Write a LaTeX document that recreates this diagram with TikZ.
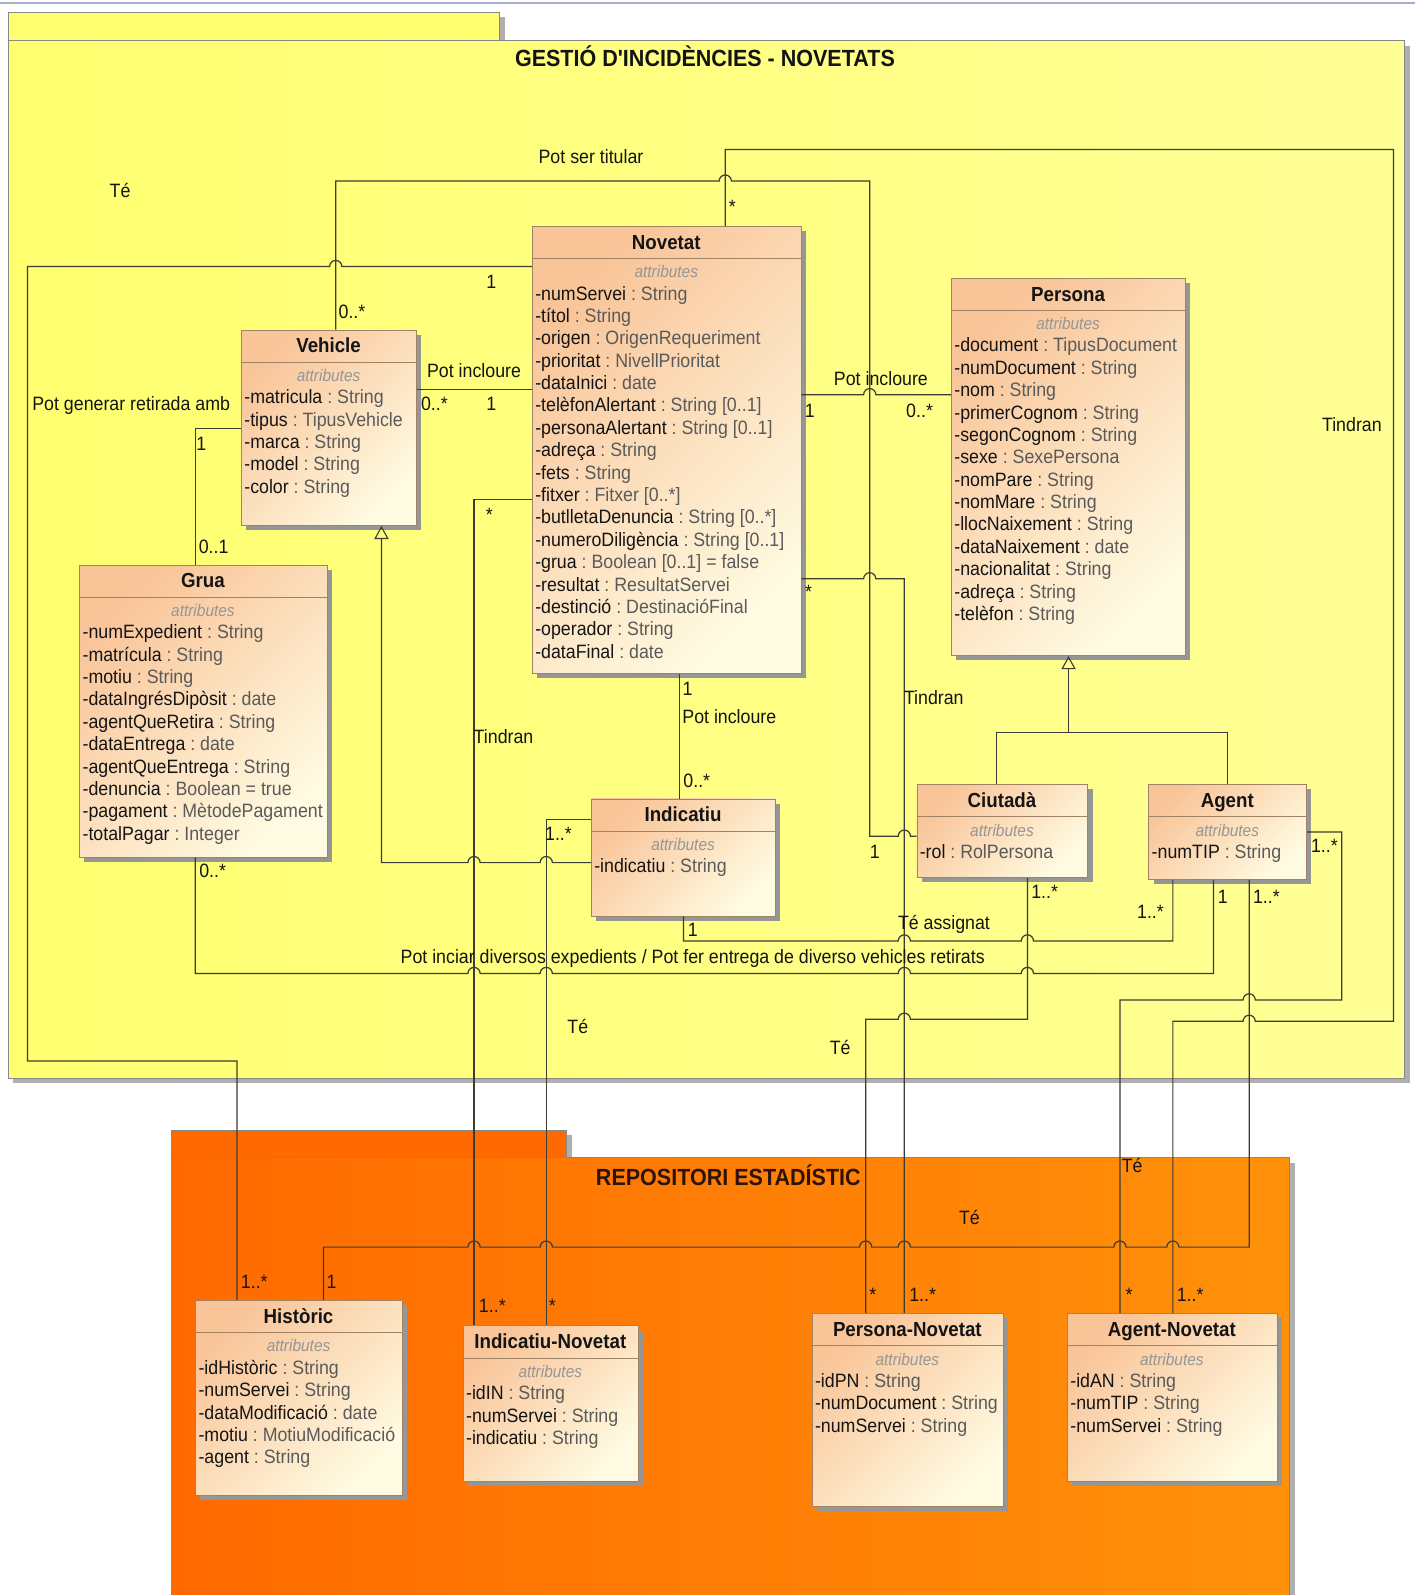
\documentclass[tikz,border=0pt]{standalone}
\usepackage{fontspec}
\setmainfont{Liberation Sans}
\newfontfamily\nar[FakeStretch=0.92]{Liberation Sans}
\usetikzlibrary{calc,arrows.meta}
\definecolor{pkgY}{RGB}{255,255,112}
\definecolor{pkgY2}{RGB}{255,255,150}
\definecolor{pkgO}{RGB}{255,106,0}
\definecolor{pkgO2}{RGB}{255,145,10}
\definecolor{pkgBorder}{RGB}{135,135,135}
\definecolor{pkgShadow}{RGB}{175,175,175}
\definecolor{clsA}{RGB}{249,196,152}
\definecolor{clsB}{RGB}{255,251,226}
\definecolor{clsBorder}{RGB}{160,130,100}
\definecolor{clsShadow}{RGB}{150,150,150}
\definecolor{lineC}{RGB}{60,60,50}
\definecolor{typeC}{RGB}{90,90,90}
\definecolor{attrC}{RGB}{150,150,150}
\definecolor{txtC}{RGB}{20,20,20}
\definecolor{pkgTxt}{RGB}{45,20,10}
\definecolor{topLine}{RGB}{165,175,205}

\newcommand\fattr{\nar\fontsize{19}{22}\selectfont}
\newcommand\ftitle{\nar\bfseries\fontsize{20}{24}\selectfont}
\newcommand\fsmall{\nar\itshape\fontsize{16.5}{20}\selectfont}
\newcommand\fpkg{\nar\bfseries\fontsize{23}{28}\selectfont}
\newcommand\at[2]{-#1\ \textcolor{typeC}{:\ #2}}

\tikzset{
  assoc/.style={draw=lineC, line width=1.2pt},
  clsbox/.style={draw=clsBorder, line width=0.9pt, top color=clsA, bottom color=clsB, shading angle=45, inner sep=0pt, anchor=north west},
  clstitle/.style={font=\ftitle, text=txtC, anchor=base, inner sep=0pt},
  clsattr/.style={font=\fsmall, text=attrC, anchor=base, inner sep=0pt},
  attrline/.style={font=\fattr, text=txtC, anchor=base west, inner sep=0pt},
  lbl/.style={font=\fattr, text=txtC, anchor=base, inner sep=0pt},
  starl/.style={font=\fattr, text=txtC, anchor=center, inner sep=0pt},
  gen/.style={assoc, -{Triangle[open, length=13pt, width=14pt, line width=1.1pt]}},
}

\newcommand\umlcls[7]{%
  \fill[clsShadow] (#2+5,#3+5) rectangle (#2+#4+5,#3+#5+5);
  \node[clsbox, minimum width=#4pt, minimum height=#5pt] (#1) at (#2,#3) {};
  \draw[draw=clsBorder, line width=0.9pt] (#2,#3+32) -- (#2+#4,#3+32);
  \node[clstitle] (#1t) at (#2+#4/2,#3+23) {#6};
  \node[clsattr] (#1s) at (#2+#4/2,#3+51) {attributes};
  \foreach \attxt [count=\i from 0] in {#7} \node[attrline] (#1a\i) at (#2+3,#3+73+22*\i) {\attxt};
}
\newcommand\lab[4]{\node[lbl] (#1) at (#2,#3) {#4};}
\newcommand\stl[3]{\node[starl] (#1) at (#2,#3) {*};}

\begin{document}
\begin{tikzpicture}[x=1pt,y=-1pt]
\useasboundingbox (0,0) rectangle (1391,1568);
\fill[white] (0,0) rectangle (1391,1568);
\draw[topLine, line width=1.5pt] (0,3) -- (1391,3);

% ---------- yellow package
\fill[pkgShadow] (13,17) rectangle (496,40);
\fill[pkgShadow] (13,45) rectangle (1386,1065);
\path[draw=pkgBorder, line width=1pt, fill=pkgY] (8,12) rectangle (491,40);
\path[draw=pkgBorder, line width=1pt, left color=pkgY, right color=pkgY2] (8,40) rectangle (1381,1060);
\node[font=\fpkg, text=txtC, anchor=base, inner sep=0pt] (ptitleA) at (693,65) {GESTIÓ D{\char"27}INCIDÈNCIES - NOVETATS};

% ---------- orange package
\fill[pkgShadow] (174,1116) rectangle (562,1143);
\fill[pkgShadow] (174,1143) rectangle (1273,1575);
\path[draw=pkgBorder, line width=1pt, fill=pkgO] (169,1111) rectangle (557,1138);
\path[draw=pkgBorder, line width=1pt, left color=pkgO, right color=pkgO2] (169,1138) rectangle (1268,1580);
\node[font=\fpkg, text=pkgTxt, anchor=base, inner sep=0pt] (ptitleB) at (716,1165) {REPOSITORI ESTADÍSTIC};

% ---------- classes
\umlcls{nov}{523}{222}{264}{440}{Novetat}{\at{numServei}{String},\at{títol}{String},\at{origen}{OrigenRequeriment},\at{prioritat}{NivellPrioritat},\at{dataInici}{date},\at{telèfonAlertant}{String [0..1]},\at{personaAlertant}{String [0..1]},\at{adreça}{String},\at{fets}{String},\at{fitxer}{Fitxer [0..*]},\at{butlletaDenuncia}{String [0..*]},\at{numeroDiligència}{String [0..1]},\at{grua}{Boolean [0..1] = false},\at{resultat}{ResultatServei},\at{destinció}{DestinacióFinal},\at{operador}{String},\at{dataFinal}{date}}
\umlcls{veh}{237}{324}{172}{192}{Vehicle}{\at{matricula}{String},\at{tipus}{TipusVehicle},\at{marca}{String},\at{model}{String},\at{color}{String}}
\umlcls{per}{935}{273}{230}{371}{Persona}{\at{document}{TipusDocument},\at{numDocument}{String},\at{nom}{String},\at{primerCognom}{String},\at{segonCognom}{String},\at{sexe}{SexePersona},\at{nomPare}{String},\at{nomMare}{String},\at{llocNaixement}{String},\at{dataNaixement}{date},\at{nacionalitat}{String},\at{adreça}{String},\at{telèfon}{String}}
\umlcls{grua}{78}{555}{243}{287}{Grua}{\at{numExpedient}{String},\at{matrícula}{String},\at{motiu}{String},\at{dataIngrésDipòsit}{date},\at{agentQueRetira}{String},\at{dataEntrega}{date},\at{agentQueEntrega}{String},\at{denuncia}{Boolean = true},\at{pagament}{MètodePagament},\at{totalPagar}{Integer}}
\umlcls{ind}{581}{785}{181}{115}{Indicatiu}{\at{indicatiu}{String}}
\umlcls{cit}{901}{771}{168}{91}{Ciutadà}{\at{rol}{RolPersona}}
\umlcls{ag}{1129}{771}{155}{93}{Agent}{\at{numTIP}{String}}
\umlcls{his}{192}{1278}{203}{192}{Històric}{\at{idHistòric}{String},\at{numServei}{String},\at{dataModificació}{date},\at{motiu}{MotiuModificació},\at{agent}{String}}
\umlcls{inn}{455}{1303}{172}{153}{Indicatiu-Novetat}{\at{idIN}{String},\at{numServei}{String},\at{indicatiu}{String}}
\umlcls{pn}{798}{1291}{188}{189}{Persona-Novetat}{\at{idPN}{String},\at{numDocument}{String},\at{numServei}{String}}
\umlcls{an}{1049}{1291}{206}{165}{Agent-Novetat}{\at{idAN}{String},\at{numTIP}{String},\at{numServei}{String}}

% ---------- connectors
% Pot ser titular: Vehicle - Ciutada
\draw[assoc] (veh.north-|330,0) -- (330,178) -- (707,178) arc[start angle=180,end angle=0,radius=6pt] -- (855,178) -- (855,822) -- (883,822) arc[start angle=180,end angle=0,radius=6pt] -- (cit.west|-0,822);
% Te: Novetat - Historic
\draw[assoc] (nov.west|-0,262) -- (336,262) arc[start angle=0,end angle=180,radius=6pt] -- (27,262) -- (27,1043) -- (233,1043) -- (his.north-|233,0);
% Pot incloure: Vehicle - Novetat
\draw[assoc] (veh.east|-0,383) -- (nov.west|-0,383);
% Pot generar retirada amb: Vehicle - Grua
\draw[assoc] (veh.west|-0,421) -- (192,421) -- (grua.north-|192,0);
% generalization Indicatiu -> Vehicle
\draw[gen] (ind.west|-0,848) -- (543,848) arc[start angle=0,end angle=180,radius=6pt] -- (472,848) arc[start angle=0,end angle=180,radius=6pt] -- (375,848) -- (veh.south-|375,0);
% Pot incloure: Novetat - Persona
\draw[assoc] (nov.east|-0,388) -- (849,388) arc[start angle=180,end angle=0,radius=6pt] -- (per.west|-0,388);
% Tindran: Novetat - Persona-Novetat
\draw[assoc] (nov.east|-0,569) -- (849,569) arc[start angle=180,end angle=0,radius=6pt] -- (889,569) -- (pn.north-|889,0);
% Tindran: Novetat - Indicatiu-Novetat
\draw[assoc] (nov.west|-0,491) -- (466,491) -- (inn.north-|466,0);
% Pot incloure: Novetat - Indicatiu
\draw[assoc] (nov.south-|668,0) -- (ind.north-|668,0);
% Te: Indicatiu - Indicatiu-Novetat
\draw[assoc] (ind.west|-0,806) -- (537,806) -- (inn.north-|537,0);
% Te assignat: Indicatiu - Agent
\draw[assoc] (ind.south-|672,0) -- (672,925) -- (883,925) arc[start angle=180,end angle=0,radius=6pt] -- (1004,925) arc[start angle=180,end angle=0,radius=6pt] -- (1153,925) -- (ag.south-|1153,0);
% Pot iniciar ...: Grua - Agent
\draw[assoc] (grua.south-|192,0) -- (192,957) -- (460,957) arc[start angle=180,end angle=0,radius=6pt] -- (531,957) arc[start angle=180,end angle=0,radius=6pt] -- (883,957) arc[start angle=180,end angle=0,radius=6pt] -- (1004,957) arc[start angle=180,end angle=0,radius=6pt] -- (1193,957) -- (ag.south-|1193,0);
% Te: Ciutada - Persona-Novetat
\draw[assoc] (cit.south-|1010,0) -- (1010,1002) -- (895,1002) arc[start angle=0,end angle=180,radius=6pt] -- (851,1002) -- (pn.north-|851,0);
% Te: Agent - Agent-Novetat
\draw[assoc] (ag.east|-0,818) -- (1319,818) -- (1319,983) -- (1234,983) arc[start angle=0,end angle=180,radius=6pt] -- (1101,983) -- (an.north-|1101,0);
% Tindran: Novetat - Agent-Novetat
\draw[assoc] (nov.north-|713,0) -- (713,147) -- (1370,147) -- (1370,1004) -- (1234,1004) arc[start angle=0,end angle=180,radius=6pt] -- (1153,1004) -- (an.north-|1153,0);
% Te: Agent - Historic
\draw[assoc] (ag.south-|1228,0) -- (1228,1226) -- (1159,1226) arc[start angle=0,end angle=180,radius=6pt] -- (1107,1226) arc[start angle=0,end angle=180,radius=6pt] -- (895,1226) arc[start angle=0,end angle=180,radius=6pt] -- (857,1226) arc[start angle=0,end angle=180,radius=6pt] -- (543,1226) arc[start angle=0,end angle=180,radius=6pt] -- (472,1226) arc[start angle=0,end angle=180,radius=6pt] -- (318,1226) -- (his.north-|318,0);
% generalization Ciutada/Agent -> Persona
\draw[assoc] (cit.north-|980,0) -- (980,720) -- (1207,720) -- (ag.north-|1207,0);
\draw[gen] (per.south|-0,720) -- (per.south);

% ---------- labels
\lab{l1}{581}{161}{Pot ser titular}
\lab{l2}{118}{194}{Té}
\stl{l3}{720}{203}
\lab{l4}{483}{284}{1}
\lab{l5}{346}{313}{0..*}
\lab{l6}{466}{371}{Pot incloure}
\lab{l7}{427}{404}{0..*}
\lab{l8}{483}{404}{1}
\lab{l9}{129}{404}{Pot generar retirada amb}
\lab{l10}{198}{443}{1}
\lab{l11}{210}{544}{0..1}
\lab{l12}{866}{379}{Pot incloure}
\lab{l13}{796}{410}{1}
\lab{l14}{904}{410}{0..*}
\lab{l15}{1329}{424}{Tindran}
\stl{l16}{481}{506}
\stl{l17}{795}{582}
\lab{l18}{676}{684}{1}
\lab{l19}{717}{711}{Pot incloure}
\lab{l20}{918}{693}{Tindran}
\lab{l21}{495}{731}{Tindran}
\lab{l22}{685}{774}{0..*}
\lab{l23}{549}{826}{1..*}
\lab{l24}{860}{844}{1}
\lab{l25}{1302}{838}{1..*}
\lab{l26}{209}{863}{0..*}
\lab{l27}{1027}{883}{1..*}
\lab{l28}{1202}{888}{1}
\lab{l29}{1245}{888}{1..*}
\lab{l30}{1131}{903}{1..*}
\lab{l31}{928}{914}{Té assignat}
\lab{l32}{681}{921}{1}
\lab{l33}{681}{947}{Pot inciar diversos expedients / Pot fer entrega de diverso vehicles retirats}
\lab{l34}{568}{1016}{Té}
\lab{l35}{826}{1037}{Té}
\lab{l36}{1113}{1153}{Té}
\lab{l37}{953}{1204}{Té}
\lab{l38}{250}{1267}{1..*}
\lab{l39}{326}{1267}{1}
\lab{l40}{484}{1290}{1..*}
\stl{l41}{543}{1284}
\stl{l42}{858}{1273}
\lab{l43}{907}{1279}{1..*}
\stl{l44}{1110}{1273}
\lab{l45}{1170}{1279}{1..*}
\end{tikzpicture}
\end{document}
